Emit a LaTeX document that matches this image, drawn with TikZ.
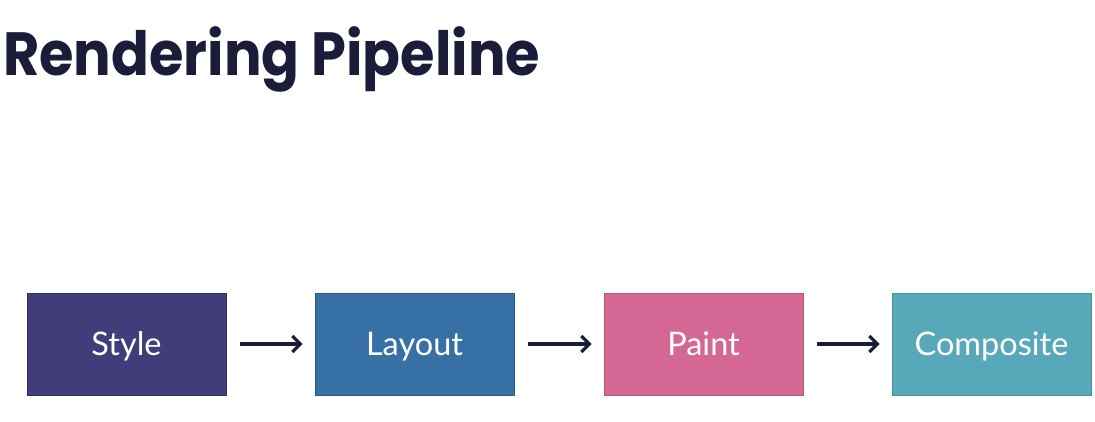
\documentclass[tikz,border=0pt]{standalone}
\usepackage{fontspec}
\setmainfont{Lato}
\newfontfamily\titlefont{Poppins}[UprightFont=* Bold]
\newfontfamily\boxfont{Lato}
\usetikzlibrary{arrows.meta}
\definecolor{inkdark}{HTML}{1B1B3A}
\definecolor{stylecol}{HTML}{403D7A}
\definecolor{layoutcol}{HTML}{3670A5}
\definecolor{paintcol}{HTML}{D46794}
\definecolor{compcol}{HTML}{57A9B9}
\tikzset{
  x=1pt, y=-1pt,
  stage/.style={minimum width=199pt, minimum height=102pt, inner sep=0pt,
    text height=26pt, text depth=4pt,
    text=white, font=\boxfont\fontsize{32.5}{32.5}\selectfont, line width=0.8pt},
  flow/.style={draw=inkdark, line width=3.2pt, -{Straight Barb[length=8pt,width=16pt,line width=3.2pt]}}
}
\begin{document}
\begin{tikzpicture}
\useasboundingbox (0,0) rectangle (1095,421);
\fill[white] (0,0) rectangle (1095,421);
\node[anchor=base west, inner sep=0pt, text=inkdark, font=\titlefont\fontsize{61}{61}\selectfont] (title) at (3,75) {\scalebox{0.915}[1]{Rendering Pipeline}};
\node[stage, fill=stylecol, draw=stylecol!80!black] (style) at (126.5,344) {Style};
\node[stage, fill=layoutcol, draw=layoutcol!80!black] (layout) at (414.5,344) {Layout};
\node[stage, fill=paintcol, draw=paintcol!85!black] (paint) at (703.5,344) {Paint};
\node[stage, fill=compcol, draw=compcol!85!black] (comp) at (991.5,344) {Composite};
\draw[flow] ([xshift=14pt]style.east) -- ([xshift=-12pt]layout.west);
\draw[flow] ([xshift=14pt]layout.east) -- ([xshift=-12pt]paint.west);
\draw[flow] ([xshift=14pt]paint.east) -- ([xshift=-12pt]comp.west);
\end{tikzpicture}
\end{document}
